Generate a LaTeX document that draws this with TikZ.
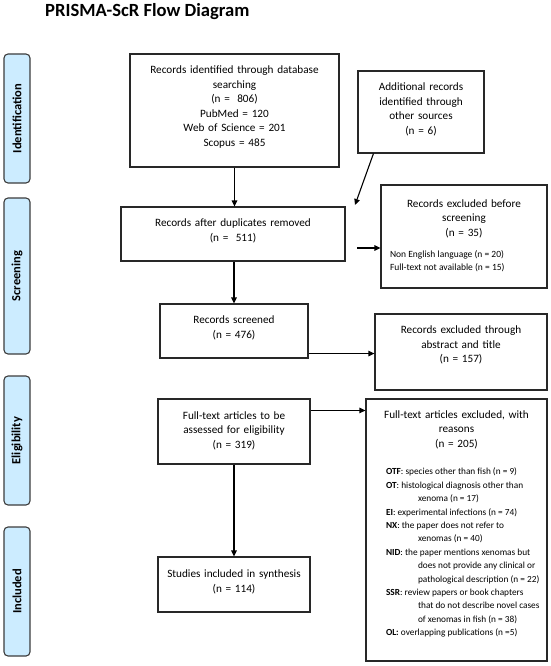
\documentclass[tikz,border=0pt]{standalone}
\usepackage{fontspec}
\setmainfont{Carlito}
\usetikzlibrary{arrows.meta,calc}
\definecolor{sidefill}{RGB}{204,236,255}
\definecolor{sidedraw}{RGB}{60,60,60}
\definecolor{boxdraw}{RGB}{40,40,40}
\newcommand{\contline}{\\\hspace*{32pt}}
\newcommand{\plainrag}{\rightskip=0pt plus 1fil\parfillskip=0pt plus 1fil\spaceskip=0pt\xspaceskip=0pt }
\newcommand{\pushup}[1]{\par\vspace*{#1}\hrule height 0pt width 0pt}
\begin{document}
\begin{tikzpicture}[x=1pt,y=-1pt,
  box/.style={draw=boxdraw, line width=1.1pt, inner sep=0pt, align=center, font=\fontsize{11.2}{14.5}\selectfont},
  side/.style={draw=sidedraw, fill=sidefill, line width=1.1pt, rounded corners=4pt, rotate=90, minimum height=26pt, inner sep=0pt, font=\bfseries\fontsize{12.5}{14}\selectfont},
  arr/.style={draw=black, line width=1.1pt, -{Triangle[length=6pt,width=5.5pt]}}]
\useasboundingbox (0,0) rectangle (550,666);

\node[font=\bfseries\fontsize{18.6}{22}\selectfont, anchor=west, inner sep=0pt] (title) at (45,12) {PRISMA-ScR Flow Diagram};

\node[side, minimum width=129pt] (sid) at (17,118.5) {Identification};
\node[side, minimum width=156pt] (sscr) at (17,276) {Screening};
\node[side, minimum width=129pt] (seli) at (17,440.5) {Eligibility};
\node[side, minimum width=129pt] (sinc) at (17,591.5) {Included};

\node[box, minimum width=209pt, minimum height=113pt, text width=205pt] (b1) at (234.5,110.5)
  {Records identified through database\\searching\\(n = \ 806)\\PubMed = 120\\Web of Science = 201\\Scopus = 485\pushup{7pt}};
\node[box, minimum width=126pt, minimum height=82pt, text width=122pt] (add) at (421,112)
  {Additional records\\identified through\\other sources\\(n = 6)\pushup{5pt}};
\node[box, minimum width=224pt, minimum height=54pt, text width=220pt] (b2) at (233,234)
  {Records after duplicates removed\\(n = \ 511)\pushup{6pt}};
\node[box, minimum width=166pt, minimum height=103pt, text width=148pt, align=left] (exb) at (464,236.5)
  {{\centering Records excluded before\\screening\\(n = 35)\par}
   \vspace*{8pt}
   {\fontsize{9.5}{13}\selectfont\plainrag Non English language (n = 20)\\Full-text not available (n = 15)\par}\pushup{2pt}};
\node[box, minimum width=148pt, minimum height=54pt, text width=144pt] (b3) at (234,331)
  {Records screened\\(n = 476)\pushup{6pt}};
\node[box, minimum width=172pt, minimum height=76pt, text width=168pt] (exa) at (461,352)
  {Records excluded through\\abstract and title\\(n = 157)\pushup{14pt}};
\node[box, minimum width=152pt, minimum height=65pt, text width=148pt] (b4) at (234,431.5)
  {Full-text articles to be\\assessed for eligibility\\(n = 319)\pushup{2pt}};
\node[box, minimum width=181pt, minimum height=262pt, text width=172pt, align=left] (exf) at (456.5,530)
  {{\centering Full-text articles excluded, with\\reasons\\(n = 205)\par}
   \vspace*{14pt}
   {\fontsize{9.3}{13.4}\selectfont\plainrag\leftskip=15.5pt
   \textbf{OTF}: species other than fish (n = 9)\\
   \textbf{OT}: histological diagnosis other than\contline xenoma (n = 17)\\
   \textbf{EI}: experimental infections (n = 74)\\
   \textbf{NX}: the paper does not refer to\contline xenomas (n = 40)\\
   \textbf{NID}: the paper mentions xenomas but\contline does not provide any clinical or\contline pathological description (n = 22)\\
   \textbf{SSR}: review papers or book chapters\contline that do not describe novel cases\contline of xenomas in fish (n = 38)\\
   \textbf{OL:} overlapping publications (n =5)\par}
   \pushup{12pt}};
\node[box, minimum width=152pt, minimum height=55pt, text width=148pt] (b5) at (234,584.5)
  {Studies included in synthesis\\(n = 114)\pushup{5pt}};

% connectors
\draw[arr] (b1.south) -- (b1.south |- b2.north);
\coordinate (addend) at (355,205);
\draw[arr] ($(add.south west)+(16,0)$) -- (addend);
\coordinate (b2out) at (357,248);
\draw[arr] (b2out) -- (exb.west |- b2out);
\draw[arr] (b3.north |- b2.south) -- (b3.north);
\coordinate (b3out) at ($(b3.south east)+(0,-5)$);
\draw[arr] (b3out) -- (exa.west |- b3out);
\coordinate (b4out) at ($(b4.north east)+(0,12)$);
\draw[arr] (b4out) -- (exf.west |- b4out);
\draw[arr] (b4.south) -- (b5.north);
\end{tikzpicture}
\end{document}
